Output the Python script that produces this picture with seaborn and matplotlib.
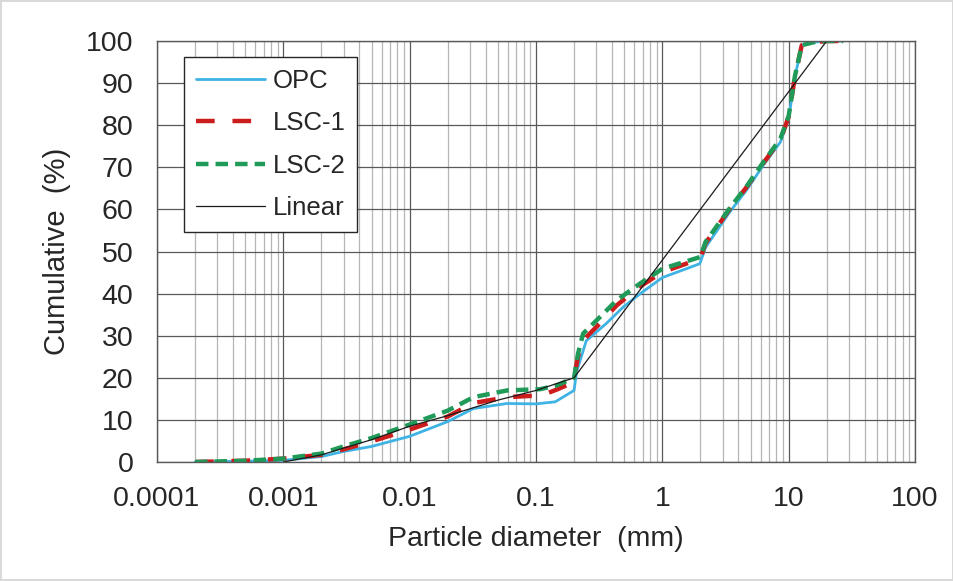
import numpy as np
import pandas as pd
import matplotlib
matplotlib.use("Agg")
import matplotlib.pyplot as plt
import matplotlib.ticker as mticker
import seaborn as sns

# ---- data ----
opc_x = [0.0002, 0.0005, 0.001, 0.002, 0.003, 0.005, 0.01, 0.02, 0.032, 0.059, 0.1, 0.142,
         0.2, 0.21, 0.25, 0.36, 0.49, 0.67, 1.0, 1.98, 2.2, 3.4, 4.7, 6.3, 8.6, 10, 11.2,
         12.7, 15.7, 20, 27]
opc_y = [0, 0.2, 0.4, 1.3, 2.5, 3.7, 6.1, 9.6, 12.7, 13.9, 13.8, 14.3,
         17, 21.5, 28.8, 32.9, 36.8, 40, 43.8, 47.1, 51, 59.3, 64.8, 70.5, 76, 81.5, 91.4,
         99, 99.7, 100, 100]

lsc1_x = [0.0002, 0.0005, 0.001, 0.002, 0.003, 0.005, 0.01, 0.02, 0.032, 0.059, 0.09, 0.108,
          0.146, 0.187, 0.2, 0.215, 0.236, 0.32, 0.435, 0.667, 1.0, 2.0, 2.2, 3.4, 4.7, 6.3,
          8.6, 10, 11.2, 12.7, 15.7, 20, 27]
lsc1_y = [0, 0.3, 0.8, 1.7, 3, 4.9, 7.7, 10.8, 14, 15.4, 15.7, 15.7,
          17.2, 18.6, 20, 25, 28.9, 32.9, 37.2, 41.7, 45.1, 48.3, 52, 60, 65.5, 71,
          76.5, 82, 91.5, 99, 99.7, 100, 100]

lsc2_x = [0.0002, 0.0005, 0.001, 0.002, 0.003, 0.005, 0.01, 0.02, 0.032, 0.059, 0.108, 0.146,
          0.2, 0.215, 0.236, 0.32, 0.435, 0.667, 1.0, 2.0, 2.2, 3.4, 4.7, 6.3, 8.6, 10, 11.2,
          12.7, 15.7, 20, 27]
lsc2_y = [0, 0.3, 0.8, 2, 3.7, 5.7, 8.9, 12.2, 15.4, 17, 17.3, 18.2,
          20, 25.7, 30.5, 34.4, 38.4, 42.4, 45.9, 48.7, 52.3, 60.2, 65.7, 71.2, 76.8, 82.2, 91.6,
          99, 99.7, 100, 100]

lin_x = [0.001, 0.002, 0.003, 0.005, 0.01, 0.02, 0.05, 0.1, 0.2, 20]
lin_y = [0, 1.7, 3.3, 5.3, 8.5, 11, 14.7, 17, 20, 100]

series_names = ["OPC", "LSC-1", "LSC-2", "Linear"]
x_ticks = [0.0001, 0.001, 0.01, 0.1, 1, 10, 100]
x_tick_labels = ["0.0001", "0.001", "0.01", "0.1", "1", "10", "100"]
y_ticks = [0, 10, 20, 30, 40, 50, 60, 70, 80, 90, 100]

# ---- style ----
sns.set_theme(style="white")
plt.rcParams["font.family"] = ["Liberation Sans", "DejaVu Sans"]

fig = plt.figure(figsize=(9.54, 5.81), dpi=100)
ax = fig.add_axes([157/954, 1-462/581, (915-157)/954, (462-41)/581])

styles = {
    "OPC":    dict(color="#3fb3e3", lw=2.0, dashes=None),
    "LSC-1":  dict(color="#cc1c1c", lw=3.2, dashes=(4.2, 4.0)),
    "LSC-2":  dict(color="#1f9a58", lw=3.2, dashes=(2.8, 1.6)),
    "Linear": dict(color="#1a1a1a", lw=0.9, dashes=None),
}
data = {"OPC": (opc_x, opc_y), "LSC-1": (lsc1_x, lsc1_y),
        "LSC-2": (lsc2_x, lsc2_y), "Linear": (lin_x, lin_y)}

for name in series_names:
    xs, ys = data[name]
    st = styles[name]
    df = pd.DataFrame({"x": xs, "y": ys})
    sns.lineplot(data=df, x="x", y="y", ax=ax, color=st["color"], lw=st["lw"],
                 sort=False, estimator=None, label=name)
    line = ax.get_lines()[-1]
    if st["dashes"] is not None:
        line.set_dashes(st["dashes"])
        line.set_dash_capstyle("butt")

ax.set_xscale("log")
ax.set_xlim(0.0001, 100)
ax.set_ylim(0, 100)
ax.xaxis.set_major_locator(mticker.FixedLocator(x_ticks))
ax.xaxis.set_major_formatter(mticker.FixedFormatter(x_tick_labels))
ax.xaxis.set_minor_locator(mticker.LogLocator(base=10, subs=np.arange(2, 10)))
ax.xaxis.set_minor_formatter(mticker.NullFormatter())
ax.set_yticks(y_ticks)

ax.grid(which="major", color="#595959", lw=0.9)
ax.grid(which="minor", axis="x", color="#b5b5b5", lw=0.9)
ax.set_axisbelow(True)

for sp in ax.spines.values():
    sp.set_color("#595959")
    sp.set_linewidth(1.0)

ax.tick_params(axis="both", which="both", length=0, labelsize=20.5, colors="#262626")
ax.tick_params(axis="x", pad=17)
ax.tick_params(axis="y", pad=17)

ax.set_xlabel("Particle diameter  (mm)", fontsize=20.5, color="#262626", labelpad=10)
ax.set_ylabel("Cumulative  (%)", fontsize=21, color="#262626", labelpad=11)

leg = ax.legend(loc="upper left", bbox_to_anchor=(0.0356, 0.961), borderaxespad=0,
                fontsize=18.5, frameon=True, fancybox=False, edgecolor="#262626",
                handlelength=2.7, handletextpad=0.3, labelspacing=0.72,
                borderpad=0.45)
leg.get_frame().set_linewidth(1.0)
leg.get_frame().set_alpha(1)
for t in leg.get_texts():
    t.set_color("#262626")

fig.patch.set_edgecolor("#d9d9d9")
fig.patch.set_linewidth(1.5)

fig.savefig("out.png", dpi=100, edgecolor=fig.get_edgecolor())
